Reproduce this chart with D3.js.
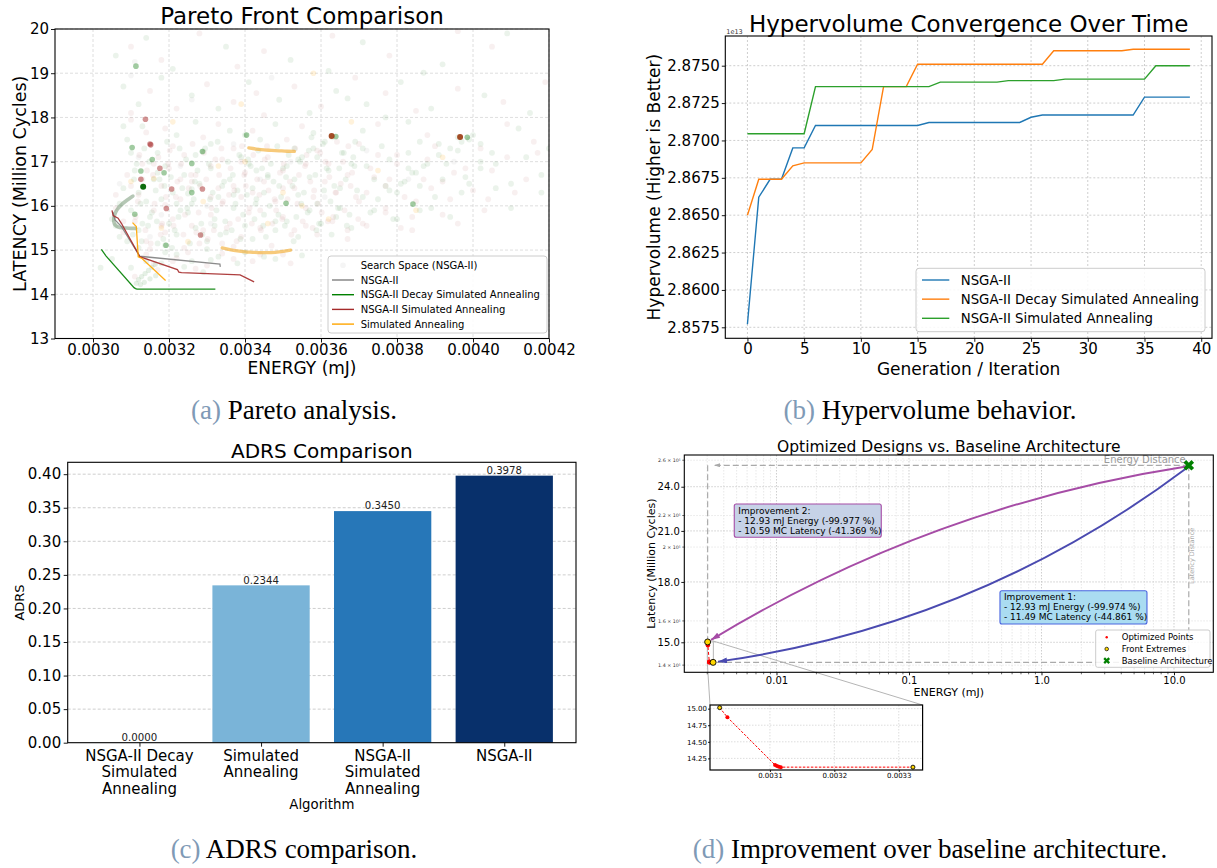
<!DOCTYPE html>
<html><head><meta charset="utf-8">
<script src="https://cdn.jsdelivr.net/npm/d3@7"></script>
<style>html,body{margin:0;padding:0;background:#fff;}svg{display:block;}</style>
</head><body>
<svg id="fig" width="1217" height="868" xmlns="http://www.w3.org/2000/svg"></svg>
<script>
// ================= (a) Pareto Front Comparison =================
const aXTicks=[0.0030,0.0032,0.0034,0.0036,0.0038,0.0040,0.0042];
const aYTicks=[13,14,15,16,17,18,19,20];
const frontNSGA=[[0.003052,15.86],[0.003058,15.68],[0.003075,15.53],[0.003123,14.86],[0.003334,14.68],[0.003335,14.62]];
const frontDecaySA=[[0.003022,15.015],[0.003034,14.87],[0.003108,14.15],[0.003112,14.13],[0.003116,14.118],[0.003322,14.118]];
const frontNSGASA=[[0.00305,15.9],[0.003053,15.78],[0.003066,15.72],[0.003075,15.6],[0.003119,14.92],[0.003123,14.85],[0.003222,14.56],[0.003226,14.5],[0.003233,14.49],[0.003387,14.44],[0.003424,14.28]];
const frontSA=[[0.003104,15.62],[0.003114,15.53],[0.003119,14.85],[0.003129,14.81],[0.003191,14.31]];
const cloudGreen=[[.00306,19.4],[.00314,19.8],[.00335,19.6],[.00352,19.3],[.00371,19.7],[.00392,19.2],[.00321,19.1],[.00409,19.9],[.00362,19.05],
[.00308,18.7],[.00312,18.3],[.00318,18.9],[.00326,18.5],[.00333,18.2],[.00341,18.8],[.00349,18.4],[.00357,18.1],[.00364,18.6],[.00372,18.3],[.00381,18.8],[.00389,18.2],[.00403,18.5],[.00415,18.1],[.00367,18.43],[.00387,19.01],[.00377,18.0],
[.00309,17.5],[.00313,17.8],[.00317,17.2],[.00322,17.6],[.00327,17.9],[.00331,17.4],[.00336,17.7],[.00339,17.1],[.00344,17.5],[.00348,17.85],[.00353,17.3],[.00358,17.65],[.00361,17.45],[.00363,17.55],[.00366,17.2],[.00371,17.7],[.00376,17.35],[.00383,17.9],[.00391,17.4],[.00396,17.55],[.00399,17.5],[.00405,17.2],[.00412,17.75],[.0042,17.3],[.00329,17.23],[.0034,17.6],[.00355,17.1],
[.00308,16.4],[.00311,16.8],[.00314,16.1],[.00316,16.6],[.00319,16.9],[.00321,16.3],[.00324,16.7],[.00326,16.05],[.00328,16.5],[.00331,16.85],[.00333,16.2],[.00336,16.6],[.00338,16.35],[.00341,16.95],[.00343,16.15],[.00346,16.7],[.00349,16.45],[.00351,16.9],[.00354,16.25],[.00357,16.65],[.00359,16.05],[.00362,16.8],[.00365,16.4],[.00368,16.95],[.00371,16.2],[.00374,16.6],[.00378,16.35],[.00381,16.5],[.00384,16.75],[.00387,16.9],[.00392,16.6],[.00397,16.3],[.00402,16.85],[.0041,16.5],[.00418,16.7],[.00326,16.38],[.00325,16.28],[.00318,16.15],[.00334,16.45],[.00345,16.3],
[.00382,16.55],[.00385,16.75],[.00388,16.95],[.00391,17.15],[.00394,17.3],[.00397,17.45],[.004,17.6],[.00342,16.4],[.00346,16.65],[.0035,16.85],[.00354,17.05],[.00358,17.3],
[.00305,15.7],[.00307,15.3],[.0031,15.9],[.00312,15.45],[.00315,15.75],[.00317,15.15],[.0032,15.6],[.00322,15.35],[.00325,15.85],[.00327,15.5],[.0033,15.2],[.00332,15.7],[.00335,15.4],[.00337,15.95],[.0034,15.55],[.00342,15.25],[.00345,15.8],[.00348,15.45],[.00351,15.65],[.00354,15.3],[.00357,15.9],[.0036,15.6],[.00364,15.75],[.00368,15.5],[.00373,15.85],[.00379,15.7],[.00386,15.9],[.00319,15.11],[.00323,15.9],[.00313,15.6],
[.00305,14.8],[.0031,14.6],[.00318,14.7],[.00322,14.9],[.00326,14.75],[.00333,14.85],[.0034,14.95],[.00348,14.8],[.00302,14.6],[.00329,14.5]];
const cloudGreenCore=[[.003105,15.35],[.003125,16.05],[.003145,15.55],[.003165,16.35],[.003185,15.25],[.003205,16.65],[.003225,15.75],[.003245,17.05],[.003265,16.15],[.003285,15.6],[.003305,16.95],[.003325,15.9],[.003345,16.55],[.003365,15.45],[.003385,17.15],[.003405,16.25],[.003425,15.7],[.003445,16.85],[.003465,16.0],[.003485,17.35],[.003505,15.55],[.003525,16.45],[.003545,17.0],[.003565,15.85],[.003585,16.7],[.003605,17.4],[.003625,16.1],[.003645,15.95],[.003665,16.6],[.003685,17.1],[.003115,16.95],[.003135,17.3],[.003155,15.85],[.003175,16.6],[.003195,17.45],[.003215,15.45],[.003235,16.4],[.003255,15.15],[.003275,16.8],[.003295,17.3],[.003315,16.3],[.003335,15.35],[.003355,17.0],[.003375,16.05],[.003395,15.8],[.003415,16.9],[.003435,17.25],[.003455,15.3],[.003475,16.55],[.003495,16.2],[.003515,17.15],[.003535,15.75],[.003555,16.3],[.003575,17.55],[.003595,15.6],[.003615,16.85],[.003635,16.45],[.003655,17.2],[.003675,15.8],[.003695,16.35],[.00372,16.9],[.00375,16.15],[.00378,17.05],[.0038,16.3],[.00383,17.2],[.00386,16.45],[.00389,15.95],[.00393,16.95],[.00396,17.25],[.00399,16.5],[.00402,17.0],[.00406,16.4],
[.00314,14.75],[.00319,14.95],[.00324,14.62],[.00331,14.78],[.00338,14.7],[.00345,14.85],[.00312,15.05],[.0033,15.02],[.00355,14.88],
[.003108,16.6],[.003128,15.2],[.003148,17.0],[.003168,15.65],[.003188,16.45],[.003208,15.05],[.003228,17.3],[.003248,15.95],[.003268,16.55],[.003288,15.35],[.003308,16.15],[.003328,17.45],[.003348,15.65],[.003368,16.7],[.003388,15.25],[.003408,17.05],[.003428,16.05],[.003448,15.55],[.003468,16.95],[.003488,15.8],[.003508,16.65],[.003528,15.2],[.003548,16.05],[.003568,17.25],[.003588,15.45],[.003608,16.35],[.003628,15.35],[.003648,16.85],[.003668,15.55],[.003688,16.9],[.00371,17.3],[.00374,15.9],[.00377,16.45],[.0038,15.7],[.00383,16.85],[.00386,17.45],[.0039,16.2],[.00394,15.75],[.00398,16.65],[.00402,17.4],[.00406,16.95],[.0041,15.95],[.00414,17.1],[.00418,16.3],
[.00312,16.3],[.00317,16.75],[.00322,16.05],[.00327,17.15],[.00332,15.55],[.00337,16.25],[.00343,16.8],[.00348,15.65],[.00353,16.6],[.00359,17.1],[.00365,15.95],[.00369,17.45],
[.00307,16.05],[.00309,15.2],[.00306,15.55],[.0031,17.2],[.00308,17.8]];
const cloudRed=[[.0031,19.6],[.00328,19.9],[.00345,19.5],[.00363,19.85],[.00378,19.4],[.00405,19.6],[.00318,19.3],[.00338,19.15],[.00396,19.95],
[.0031,18.1],[.00315,18.6],[.00322,18.2],[.0033,18.75],[.00337,18.35],[.00345,18.05],[.00353,18.7],[.0036,18.25],[.00369,18.9],[.00377,18.55],[.00385,18.15],[.00396,18.65],[.00408,18.35],[.00419,18.8],[.00343,18.55],
[.0031,17.95],[.00314,17.66],[.00319,17.75],[.00324,17.15],[.00329,17.55],[.00333,17.85],[.00337,17.3],[.00342,17.7],[.00346,17.1],[.00351,17.5],[.00355,17.8],[.00359,17.25],[.0037,17.4],[.00375,17.85],[.0038,17.15],[.00388,17.6],[.00402,17.3],[.00409,17.85],[.00416,17.45],[.00321,17.35],[.00334,17.05],
[.00309,16.7],[.00312,16.25],[.00313,16.6],[.00316,16.95],[.00318,16.45],[.0032,16.85],[.00323,16.15],[.00326,16.55],[.00331,16.9],[.00334,16.05],[.00337,16.45],[.0034,16.75],[.00342,16.3],[.00345,16.55],[.00348,16.1],[.0035,16.8],[.00353,16.4],[.00356,16.95],[.00358,16.2],[.00361,16.55],[.00364,16.3],[.00367,16.7],[.0037,16.1],[.00373,16.85],[.00377,16.45],[.00382,16.2],[.00389,16.4],[.00395,16.75],[.00404,16.15],[.00414,16.6],[.00319,16.02],[.00331,16.2],[.00327,16.7],[.00339,16.2],
[.00306,15.95],[.00308,15.4],[.00311,15.65],[.00314,15.2],[.00316,15.9],[.00319,15.4],[.00321,15.7],[.00324,15.05],[.00326,15.55],[.00331,15.8],[.00334,15.15],[.00336,15.6],[.00339,15.3],[.00341,15.85],[.00344,15.5],[.00347,15.1],[.0035,15.75],[.00353,15.45],[.00356,15.95],[.00359,15.35],[.00363,15.65],[.00367,15.25],[.00372,15.55],[.00377,15.95],[.00384,15.45],[.00392,15.8],[.00329,15.45],
[.00314,14.9],[.00317,14.55],[.00321,14.75],[.00325,14.95],[.0033,14.65],[.00337,14.8],[.00344,14.9],[.00352,14.7],[.00311,14.4]];
const cloudRedCore=[[.003112,15.75],[.003132,16.45],[.003152,15.15],[.003172,17.1],[.003192,16.2],[.003212,15.55],[.003232,16.95],[.003252,16.4],[.003272,15.4],[.003292,17.2],[.003312,15.95],[.003332,16.7],[.003352,15.5],[.003372,16.35],[.003392,17.35],[.003412,15.95],[.003432,16.6],[.003452,17.05],[.003472,15.6],[.003492,16.75],[.003512,16.15],[.003532,17.3],[.003552,15.65],[.003572,16.55],[.003592,16.05],[.003612,17.0],[.003632,15.75],[.003652,16.5],[.003672,17.35],[.003692,16.2],[.003122,17.15],[.003142,16.8],[.003162,16.05],[.003182,15.6],[.003202,17.25],[.003222,16.55],[.003242,15.8],[.003262,17.4],[.003282,16.45],[.003302,15.25],[.003322,17.05],[.003342,16.1],[.003362,16.85],[.003382,15.7],[.003402,16.45],[.003422,17.15],[.003442,15.45],[.003462,16.35],[.003482,15.9],[.003502,16.95],[.003522,15.35],[.003542,16.7],[.003562,17.15],[.003582,16.35],[.003602,15.85],[.003622,16.65],[.003642,17.45],[.003662,15.9],[.003682,16.75],[.00371,15.6],[.00374,16.65],[.00377,15.85],[.0038,16.95],[.00384,15.75],[.00387,16.6],[.0039,17.35],[.00394,16.15],[.00398,16.85],[.00403,15.9],[.00409,17.1],
[.00316,14.68],[.00322,14.82],[.00327,14.58],[.00334,14.92],[.00342,14.75],[.0035,14.9],[.00315,15.02],[.00337,15.08],
[.003118,16.1],[.003138,15.45],[.003158,16.7],[.003178,15.35],[.003198,16.95],[.003218,16.2],[.003238,15.35],[.003258,16.7],[.003278,15.85],[.003298,16.6],[.003318,15.45],[.003338,17.3],[.003358,16.25],[.003378,15.2],[.003398,16.7],[.003418,15.6],[.003438,16.25],[.003458,17.35],[.003478,16.15],[.003498,15.7],[.003518,16.55],[.003538,16.05],[.003558,16.9],[.003578,15.5],[.003598,17.2],[.003618,15.65],[.003638,16.3],[.003658,17.0],[.003678,16.45],[.003698,15.7],[.00372,16.3],[.00375,17.15],[.00378,16.6],[.00381,15.5],[.00385,16.1],[.00388,17.05],[.00392,16.55],[.00396,15.6],[.004,16.35],[.00405,16.8],[.00411,16.3],[.00417,17.2],
[.00313,16.95],[.00318,15.55],[.00323,16.6],[.00328,15.15],[.00333,16.4],[.00339,17.0],[.00344,15.9],[.0035,16.4],[.00356,15.55],[.00362,16.95],[.00367,15.45],
[.00306,16.25],[.00308,15.65],[.0031,16.45]];
const cloudOrange=[[.00316,16.62],[.00325,15.19],[.00333,16.9],[.0035,16.3],[.00362,15.7],[.00375,16.8],[.00339,18.3],[.00321,17.9],[.00358,19.0],[.00392,17.1],[.0031,16.55],[.00346,15.6],[.00329,16.1],[.00368,17.9],[.00355,16.0],[.00318,15.5],[.00385,15.9],[.0034,17.0]];
const cloudGray=[[.00307,16.5],[.00312,17.1],[.00318,15.8],[.00323,16.9],[.0033,16.0],[.00337,17.4],[.00344,16.6],[.00352,17.0],[.00361,16.2],[.00372,17.25],[.00383,16.6],[.00395,17.0],[.00326,18.4],[.00347,18.9],[.00315,15.3],[.00331,15.6],[.00311,19.26],[.0031,18.95]];
const orangeArcTop=[[.00341,17.31],[.00343,17.285],[.00345,17.265],[.00347,17.255],[.00349,17.245],[.00351,17.235],[.00353,17.23]];
const orangeArcBottom=[[.00334,15.05],[.00336,15.01],[.00338,14.98],[.0034,14.96],[.00342,14.95],[.00344,14.94],[.00346,14.94],[.00348,14.95],[.0035,14.97],[.00352,15.0]];
const hookPts=[[.003105,16.22],[.003095,16.16],[.003085,16.1],[.003075,16.03],[.003066,15.95],[.00306,15.87],[.003056,15.78],[.003054,15.7],[.003055,15.62],[.003058,15.56],[.003065,15.52],[.003075,15.5],[.003088,15.5],[.0031,15.49],[.003112,15.49]];
const tailPts=[[.003114,14.25],[.00312,14.33],[.003128,14.4],[.003137,14.47],[.003146,14.54],[.003155,14.61],[.003164,14.68],[.003125,14.22],[.003135,14.27],[.00315,14.35],[.003165,14.42]];
const highlightRed=[[.003138,17.96],[.003152,17.38],[.003176,16.85],[.003126,16.6],[.003207,16.38],[.003288,16.38],[.003193,15.94],[.003283,15.34],[.00315,17.4]];
const highlightGreen=[[.003113,19.16],[.003103,17.32],[.003156,17.05],[.003187,16.75],[.003126,16.79],[.00326,16.3],[.003192,15.11],[.003508,16.06],[.00311,15.81],[.003288,17.23],[.003404,17.6],[.003639,17.57],[.003985,17.55],[.003842,16.04],[.00326,16.96]];
const highlightDark=[[.003132,16.43]];
const highlightBrown=[[.003628,17.58],[.003966,17.56]];
const aLegend=["Search Space (NSGA-II)","NSGA-II","NSGA-II Decay Simulated Annealing","NSGA-II Simulated Annealing","Simulated Annealing"];

// ================= (b) Hypervolume =================
const generations=[0,1,2,3,4,5,6,7,8,9,10,11,12,13,14,15,16,17,18,19,20,21,22,23,24,25,26,27,28,29,30,31,32,33,34,35,36,37,38,39];
const hvNSGA=[2.8577,2.8662,2.8674,2.8674,2.8695,2.8695,2.8710,2.8710,2.8710,2.8710,2.8710,2.8710,2.8710,2.8710,2.8710,2.8710,2.8712,2.8712,2.8712,2.8712,2.8712,2.8712,2.8712,2.8712,2.8712,2.87155,2.8717,2.8717,2.8717,2.8717,2.8717,2.8717,2.8717,2.8717,2.8717,2.8729,2.8729,2.8729,2.8729,2.8729];
const hvDecaySA=[2.8650,2.8674,2.8674,2.8674,2.8683,2.8685,2.8685,2.8685,2.8685,2.8685,2.8685,2.8694,2.8736,2.8736,2.8736,2.8751,2.8751,2.8751,2.8751,2.8751,2.8751,2.8751,2.8751,2.8751,2.8751,2.8751,2.8751,2.8760,2.8760,2.8760,2.8760,2.8760,2.8760,2.8760,2.8761,2.8761,2.8761,2.8761,2.8761,2.8761];
const hvNSGASA=[2.87045,2.87045,2.87045,2.87045,2.87045,2.87045,2.8736,2.8736,2.8736,2.8736,2.8736,2.8736,2.8736,2.8736,2.8736,2.8736,2.8736,2.8739,2.8739,2.8739,2.8739,2.8739,2.8739,2.8740,2.8740,2.8740,2.8740,2.8740,2.8741,2.8741,2.8741,2.8741,2.8741,2.8741,2.8741,2.8741,2.8750,2.8750,2.8750,2.8750];
const bXTicks=[0,5,10,15,20,25,30,35,40];
const bYTicks=[2.8575,2.8600,2.8625,2.8650,2.8675,2.8700,2.8725,2.8750];
const bLegend=["NSGA-II","NSGA-II Decay Simulated Annealing","NSGA-II Simulated Annealing"];

// ================= (c) ADRS =================
const adrsCats=[["NSGA-II Decay","Simulated","Annealing"],["Simulated","Annealing"],["NSGA-II","Simulated","Annealing"],["NSGA-II"]];
const adrsVals=[0.0000,0.2344,0.3450,0.3978];
const cYTicks=[0,0.05,0.10,0.15,0.20,0.25,0.30,0.35,0.40];

// ================= (d) Baseline =================
const baseline=[12.933,25.605];
const optFront=[[0.003022,15.015],[0.003034,14.87],[0.003108,14.15],[0.003111,14.135],[0.003114,14.125],[0.003117,14.118],[0.003322,14.118]];
const frontExtremes=[[0.003022,15.015],[0.003322,14.118]];
const dXTicks=[0.01,0.1,1,10], dXLabels=["0.01","0.1","1.0","10.0"];
const dYTicks=[15,18,21,24], dYLabels=["15.0","18.0","21.0","24.0"];
const dYMinor=[14,16,20,22,26], dYMinorLabels=["1.4 × 10¹","1.6 × 10¹","2 × 10¹","2.2 × 10¹","2.6 × 10¹"];
const imp1Lines=["Improvement 1:","- 12.93 mJ Energy (-99.974 %)","- 11.49 MC Latency (-44.861 %)"];
const imp2Lines=["Improvement 2:","- 12.93 mJ Energy (-99.977 %)","- 10.59 MC Latency (-41.369 %)"];
const imp1Anchor=[0.486,17.53], imp2Anchor=[0.0048,22.78];
const dLegend=["Optimized Points","Front Extremes","Baseline Architecture"];
const iXTicks=[0.0031,0.0032,0.0033], iYTicks=[14.25,14.50,14.75,15.00];

const captions=[["(a)"," Pareto analysis."],["(b)"," Hypervolume behavior."],["(c)"," ADRS comparison."],["(d)"," Improvement over baseline architecture."]];

// ================= drawing =================
const svg=d3.select("#fig");
const F="DejaVu Sans, Verdana, sans-serif";
const defs=svg.append("defs");
function mk(id,color,w,h){defs.append("marker").attr("id",id).attr("markerUnits","userSpaceOnUse").attr("markerWidth",w).attr("markerHeight",h).attr("refX",w).attr("refY",h/2).attr("orient","auto").append("path").attr("d",`M0,0L${w},${h/2}L0,${h}Z`).attr("fill",color);}
mk("ahP","#a64ca6",9,6);mk("ahB","#4a4ab0",9,6);mk("ahG","#aaaaaa",6,4);

function txt(g,x,y,s,size,o={}){const t=g.append("text").attr("x",x).attr("y",y).text(s).attr("font-family",F).attr("font-size",size).attr("fill",o.fill||"#000").attr("text-anchor",o.anchor||"start");if(o.rot!=null)t.attr("transform",`rotate(${o.rot},${x},${y})`);if(o.dy)t.attr("dy",o.dy);return t;}
function axisStyle(g,fs){g.attr("font-family",F).attr("font-size",fs);g.select(".domain").remove();g.selectAll(".tick line").attr("stroke","#000").attr("stroke-width",0.9);g.selectAll(".tick text").attr("fill","#000");}
function hGrid(g,s,vals,x0,x1,c,dash,w){g.append("g").selectAll("line").data(vals).join("line").attr("x1",x0).attr("x2",x1).attr("y1",d=>s(d)).attr("y2",d=>s(d)).attr("stroke",c).attr("stroke-width",w).attr("stroke-dasharray",dash);}
function vGrid(g,s,vals,y0,y1,c,dash,w){g.append("g").selectAll("line").data(vals).join("line").attr("y1",y0).attr("y2",y1).attr("x1",d=>s(d)).attr("x2",d=>s(d)).attr("stroke",c).attr("stroke-width",w).attr("stroke-dasharray",dash);}
function frame(g,x0,y0,x1,y1,w){g.append("rect").attr("x",x0).attr("y",y0).attr("width",x1-x0).attr("height",y1-y0).attr("fill","none").attr("stroke","#000").attr("stroke-width",w||1);}
function dots(g,data,x,y,r,c,o,stroke){const s=g.append("g").selectAll("circle").data(data).join("circle").attr("cx",d=>x(d[0])).attr("cy",d=>y(d[1])).attr("r",r).attr("fill",c).attr("fill-opacity",o);if(stroke)s.attr("stroke",stroke).attr("stroke-width",0.9);return s;}

// ---------- panel a ----------
{
const L=55,R=549,T=29,B=338.5;
const g=svg.append("g");
const x=d3.scaleLinear().domain([0.0029,0.0042]).range([L,R]);
const y=d3.scaleLinear().domain([13,20]).range([B,T]);
vGrid(g,x,aXTicks,T,B,"#d6d6d6","3,2",0.8);
hGrid(g,y,aYTicks,L,R,"#d6d6d6","3,2",0.8);
defs.append("clipPath").attr("id","clipA").append("rect").attr("x",L).attr("y",T).attr("width",R-L).attr("height",B-T);
const pg=g.append("g").attr("clip-path","url(#clipA)");
dots(pg,cloudGray,x,y,2.8,"#808080",0.08);
dots(pg,cloudGreen,x,y,2.9,"#3c8c3c",0.1);
dots(pg,cloudGreenCore,x,y,2.9,"#3c8c3c",0.1);
dots(pg,cloudRed,x,y,2.9,"#a54040",0.08);
dots(pg,cloudRedCore,x,y,2.9,"#a54040",0.08);
dots(pg,cloudOrange,x,y,2.8,"#ffa500",0.14);
dots(pg,tailPts,x,y,2.6,"#5fa05f",0.16);
const line=d3.line().x(d=>x(d[0])).y(d=>y(d[1])).curve(d3.curveMonotoneX);
const lineP=d3.line().x(d=>x(d[0])).y(d=>y(d[1])).curve(d3.curveBasis);
[orangeArcTop,orangeArcBottom].forEach(a=>pg.append("path").attr("d",line(a)).attr("fill","none").attr("stroke","#f2a623").attr("stroke-width",3.3).attr("stroke-linecap","round").attr("stroke-opacity",0.6));
pg.append("path").attr("d",lineP(hookPts)).attr("fill","none").attr("stroke","#6b8f6b").attr("stroke-width",3.6).attr("stroke-linecap","round").attr("stroke-opacity",0.5);
dots(pg,highlightRed,x,y,2.8,"#a52a2a",0.5);
dots(pg,highlightGreen,x,y,2.8,"#2e8b2e",0.45);
dots(pg,highlightDark,x,y,3,"#006400",0.95);
dots(pg,highlightBrown,x,y,3,"#9a3a10",0.9);
const fl=d3.line().x(d=>x(d[0])).y(d=>y(d[1]));
const fr=[[frontNSGA,"#808080"],[frontDecaySA,"#008000"],[frontNSGASA,"#a52a2a"],[frontSA,"#ffa500"]];
fr.forEach(([d,c])=>pg.append("path").attr("d",fl(d)).attr("fill","none").attr("stroke",c).attr("stroke-width",1.3).attr("stroke-opacity",0.9));
frame(g,L,T,R,B,1.1);
const ax=g.append("g").attr("transform",`translate(0,${B})`).call(d3.axisBottom(x).tickValues(aXTicks).tickFormat(d3.format(".4f")).tickSize(4).tickPadding(2));axisStyle(ax,15);
const ay=g.append("g").attr("transform",`translate(${L},0)`).call(d3.axisLeft(y).tickValues(aYTicks).tickFormat(d3.format("d")).tickSize(4).tickPadding(2));axisStyle(ay,15);
txt(g,(L+R)/2,24,"Pareto Front Comparison",23,{anchor:"middle"});
txt(g,(L+R)/2,374,"ENERGY (mJ)",17,{anchor:"middle"});
txt(g,20,(T+B)/2,"LATENCY (Million Cycles)",17.5,{anchor:"middle",rot:-90,dy:"0.36em"});
const lg=g.append("g");
lg.append("rect").attr("x",328).attr("y",256).attr("width",219).attr("height",77).attr("rx",3).attr("fill","#fff").attr("fill-opacity",0.85).attr("stroke","#cccccc");
const lc=["#808080","#808080","#008000","#a52a2a","#ffa500"];
aLegend.forEach((s,i)=>{const yy=265.3+i*14.7;
 if(i===0){lg.append("circle").attr("cx",343).attr("cy",yy).attr("r",2.8).attr("fill","#808080").attr("fill-opacity",0.08);}
 else lg.append("line").attr("x1",332).attr("x2",354).attr("y1",yy).attr("y2",yy).attr("stroke",lc[i]).attr("stroke-width",1.4);
 txt(lg,360.7,yy,s,10,{dy:"0.35em"});});
}

// ---------- panel b ----------
{
const L=725.3,R=1212,T=36,B=338.3;
const g=svg.append("g");
const x=d3.scaleLinear().domain([-1.95,40.95]).range([L,R]);
const y=d3.scaleLinear().domain([2.856764,2.876987]).range([B,T]);
vGrid(g,x,bXTicks,T,B,"#c8c8c8","2,2",0.9);
hGrid(g,y,bYTicks,L,R,"#c8c8c8","2,2",0.9);
const sers=[[hvNSGA,"#1f77b4"],[hvDecaySA,"#ff7f0e"],[hvNSGASA,"#2ca02c"]];
sers.forEach(([v,c])=>{const ln=d3.line().x((d,i)=>x(generations[i])).y(d=>y(d));g.append("path").attr("d",ln(v)).attr("fill","none").attr("stroke",c).attr("stroke-width",1.4);});
frame(g,L,T,R,B,1.1);
const ax=g.append("g").attr("transform",`translate(0,${B})`).call(d3.axisBottom(x).tickValues(bXTicks).tickFormat(d3.format("d")).tickSize(3.5).tickPadding(2));axisStyle(ax,15);
const ay=g.append("g").attr("transform",`translate(${L},0)`).call(d3.axisLeft(y).tickValues(bYTicks).tickFormat(d3.format(".4f")).tickSize(3.5).tickPadding(2));axisStyle(ay,15);
txt(g,L+1,34,"1e13",6.5,{fill:"#333"});
txt(g,(L+R)/2,31.5,"Hypervolume Convergence Over Time",23,{anchor:"middle"});
txt(g,(L+R)/2,374.5,"Generation / Iteration",17,{anchor:"middle"});
txt(g,654,(T+B)/2,"Hypervolume (Higher is Better)",17,{anchor:"middle",rot:-90,dy:"0.36em"});
const lg=g.append("g");
lg.append("rect").attr("x",916).attr("y",268.3).attr("width",289).attr("height",63.4).attr("rx",3).attr("fill","#fff").attr("fill-opacity",0.85).attr("stroke","#cccccc");
bLegend.forEach((s,i)=>{const yy=280+i*19.15;lg.append("line").attr("x1",922).attr("x2",949.3).attr("y1",yy).attr("y2",yy).attr("stroke",sers[i][1]).attr("stroke-width",1.4);txt(lg,960.7,yy,s,13.3,{dy:"0.35em"});});
}

// ---------- panel c ----------
{
const L=67.7,R=576,T=462.3,B=742.7;
const g=svg.append("g");
const x=d3.scaleLinear().domain([-0.59,3.59]).range([L,R]);
const y=d3.scaleLinear().domain([0,0.4177]).range([B,T]);
const col=d3.scaleOrdinal().domain([0,1,2,3]).range(["#f7fbff","#7ab4d8","#2777b8","#08306b"]);
hGrid(g,y,cYTicks.slice(1),L,R,"#c8c8c8","3,2",0.9);
g.append("g").selectAll("rect").data(adrsVals).join("rect").attr("x",(d,i)=>x(i-0.4)).attr("width",(d,i)=>x(i+0.4)-x(i-0.4)).attr("y",d=>y(d)).attr("height",d=>y(0)-y(d)).attr("fill",(d,i)=>col(i));
adrsVals.forEach((v,i)=>txt(g,x(i),y(v)-1.8,d3.format(".4f")(v),10.2,{anchor:"middle",fill:"#222"}));
frame(g,L,T,R,B,1.1);
const ay=g.append("g").attr("transform",`translate(${L},0)`).call(d3.axisLeft(y).tickValues(cYTicks).tickFormat(d3.format(".2f")).tickSize(4).tickPadding(2.5));axisStyle(ay,15);
const ax=g.append("g").attr("transform",`translate(0,${B})`).call(d3.axisBottom(x).tickValues([0,1,2,3]).tickFormat("").tickSize(4));axisStyle(ax,15);
adrsCats.forEach((lines,i)=>lines.forEach((s,j)=>txt(g,x(i),760.5+j*16.7,s,15,{anchor:"middle"})));
txt(g,(L+R)/2,458.3,"ADRS Comparison",20,{anchor:"middle"});
txt(g,(L+R)/2,809,"Algorithm",13.3,{anchor:"middle"});
txt(g,19,(T+B)/2,"ADRS",13,{anchor:"middle",rot:-90,dy:"0.36em"});
}

// ---------- panel d ----------
{
const L=684.3,R=1213.3,T=455,B=672.3;
const g=svg.append("g");
const x=d3.scaleLog().domain([0.0020144,19.80]).range([L,R]);
const y=d3.scaleLog().domain([13.70,26.414]).range([B,T]);
const minorX=[];for(let e=-3;e<=1;e++)for(let k=2;k<=9;k++){const v=k*Math.pow(10,e);if(v>=x.domain()[0]&&v<=x.domain()[1])minorX.push(v);}
vGrid(g,x,minorX,T,B,"#dedede","1.5,1.5",0.7);
vGrid(g,x,dXTicks,T,B,"#c2c2c2","1.5,1.5",0.8);
hGrid(g,y,dYMinor,L,R,"#dedede","1.5,1.5",0.7);
hGrid(g,y,dYTicks,L,R,"#c2c2c2","1.5,1.5",0.8);
const bx=x(baseline[0]),by=y(baseline[1]);
const eL=frontExtremes[0],eR=frontExtremes[1];
const gd=g.append("g").attr("stroke","#aaaaaa").attr("stroke-width",1.2).attr("fill","none");
gd.append("line").attr("x1",bx).attr("y1",by).attr("x2",x(eR[0])+1).attr("y2",by).attr("stroke-dasharray","6,3").attr("marker-end","url(#ahG)");
gd.append("line").attr("x1",x(eL[0])).attr("y1",by).attr("x2",x(eL[0])).attr("y2",y(eL[1])).attr("stroke-dasharray","6,3");
gd.append("line").attr("x1",bx).attr("y1",by).attr("x2",bx).attr("y2",y(eR[1])).attr("stroke-dasharray","6,3");
gd.append("line").attr("x1",x(eR[0])+4).attr("y1",y(eR[1])).attr("x2",bx).attr("y2",y(eR[1])).attr("stroke-dasharray","6,3");
txt(g,bx-3,by-2.5,"Energy Distance",10,{anchor:"end",fill:"#9a9a9a"});
txt(g,bx+3,(by+y(eR[1]))/2-8,"Latency Distance",6.5,{anchor:"middle",fill:"#aaaaaa",rot:-90,dy:"0.35em"});
const IL=710,IR=922.6,IT=705,IB=770;
const xi=d3.scaleLinear().domain([0.003007,0.003337]).range([IL,IR]);
const yi=d3.scaleLinear().domain([14.075,15.055]).range([IB,IT]);
const rx0=x(xi.domain()[0]),rx1=x(xi.domain()[1]),ry0=y(yi.domain()[1]),ry1=y(yi.domain()[0]);
g.append("rect").attr("x",rx0).attr("y",ry0).attr("width",rx1-rx0).attr("height",ry1-ry0).attr("fill","none").attr("stroke","#b5b5b5").attr("stroke-width",1);
g.append("line").attr("x1",rx0).attr("y1",ry1).attr("x2",IL).attr("y2",IT).attr("stroke","#b5b5b5").attr("stroke-width",1);
g.append("line").attr("x1",rx1).attr("y1",ry0).attr("x2",IR).attr("y2",IT).attr("stroke","#b5b5b5").attr("stroke-width",1);
function arc(S,E,rad,shrink){const mx=(S[0]+E[0])/2,my=(S[1]+E[1])/2,dx=E[0]-S[0],dy=E[1]-S[1];const C=[mx+rad*dy,my-rad*dx];const len=2*Math.hypot(E[0]-C[0],E[1]-C[1]);const t=1-shrink/len;const C1=[S[0]+t*(C[0]-S[0]),S[1]+t*(C[1]-S[1])];const u=1-t;const P=[u*u*S[0]+2*u*t*C[0]+t*t*E[0],u*u*S[1]+2*u*t*C[1]+t*t*E[1]];return `M${S[0]},${S[1]}Q${C1[0]},${C1[1]} ${P[0]},${P[1]}`;}
g.append("path").attr("d",arc([bx-1,by+1],[x(eL[0]),y(eL[1])],-0.1,4)).attr("fill","none").attr("stroke","#a64ca6").attr("stroke-width",1.9).attr("marker-end","url(#ahP)");
g.append("path").attr("d",arc([bx-1,by+2],[x(eR[0]),y(eR[1])],0.13,5)).attr("fill","none").attr("stroke","#4a4ab0").attr("stroke-width",1.9).attr("marker-end","url(#ahB)");
const ln=d3.line().x(d=>x(d[0])).y(d=>y(d[1]));
g.append("path").attr("d",ln(optFront)).attr("fill","none").attr("stroke","#ff0000").attr("stroke-width",1).attr("stroke-dasharray","3,2");
dots(g,optFront.slice(1,-1),x,y,2.2,"#ff0000",1);
dots(g,frontExtremes,x,y,3,"#ffd700",1,"#000");
g.append("path").attr("d",d3.symbol(d3.symbolCross,70)()).attr("transform",`translate(${bx},${by}) rotate(45)`).attr("fill","#008000");
function box(anchor,lines,fill,stroke){const px=x(anchor[0]),py=y(anchor[1]);g.append("rect").attr("x",px).attr("y",py).attr("width",147).attr("height",33.3).attr("rx",2).attr("fill",fill).attr("stroke",stroke).attr("stroke-width",1.1);lines.forEach((s,i)=>txt(g,px+4,py+9.6+i*10,s,9));}
box(imp2Anchor,imp2Lines,"#c6d2e7","#a64ca6");
box(imp1Anchor,imp1Lines,"#aadcf1","#4a66e0");
const lg=g.append("g");
lg.append("rect").attr("x",1095.7).attr("y",630).attr("width",114.3).attr("height",37.3).attr("rx",2).attr("fill","#fff").attr("fill-opacity",0.85).attr("stroke","#cccccc");
const ly=[637.3,649,660.7];
lg.append("circle").attr("cx",1106.7).attr("cy",ly[0]).attr("r",1.2).attr("fill","#ff0000");
lg.append("circle").attr("cx",1106.7).attr("cy",ly[1]).attr("r",1.8).attr("fill","#ffd700").attr("stroke","#000").attr("stroke-width",0.7);
lg.append("path").attr("d",d3.symbol(d3.symbolCross,28)()).attr("transform",`translate(1106.7,${ly[2]}) rotate(45)`).attr("fill","#008000");
dLegend.forEach((s,i)=>txt(lg,1121.7,ly[i],s,8.5,{dy:"0.35em"}));
frame(g,L,T,R,B,1.1);
const ax=g.append("g").attr("transform",`translate(0,${B})`).call(d3.axisBottom(x).tickValues(dXTicks).tickFormat((d,i)=>dXLabels[i]).tickSize(3).tickPadding(1.7));axisStyle(ax,10);
const ay=g.append("g").attr("transform",`translate(${L},0)`).call(d3.axisLeft(y).tickValues(dYTicks).tickFormat((d,i)=>dYLabels[i]).tickSize(3).tickPadding(1.5));axisStyle(ay,10);
g.append("g").selectAll("line").data(minorX).join("line").attr("x1",d=>x(d)).attr("x2",d=>x(d)).attr("y1",B).attr("y2",B+2).attr("stroke","#000").attr("stroke-width",0.6);
g.append("g").selectAll("line").data(dYMinor).join("line").attr("y1",d=>y(d)).attr("y2",d=>y(d)).attr("x1",L).attr("x2",L-2).attr("stroke","#000").attr("stroke-width",0.6);
dYMinor.forEach((v,i)=>txt(g,L-3.5,y(v),dYMinorLabels[i],4.8,{anchor:"end",fill:"#333",dy:"0.35em"}));
txt(g,(L+R)/2,452,"Optimized Designs vs. Baseline Architecture",15.5,{anchor:"middle"});
txt(g,(L+R)/2,695.5,"ENERGY (mJ)",11,{anchor:"middle"});
txt(g,651,(T+B)/2,"Latency (Million Cycles)",11,{anchor:"middle",rot:-90,dy:"0.36em"});
const ig=svg.append("g");
ig.append("rect").attr("x",IL).attr("y",IT).attr("width",IR-IL).attr("height",IB-IT).attr("fill","#fff");
vGrid(ig,xi,iXTicks,IT,IB,"#d0d0d0","1.5,1.5",0.7);
hGrid(ig,yi,iYTicks,IL,IR,"#d0d0d0","1.5,1.5",0.7);
const lni=d3.line().x(d=>xi(d[0])).y(d=>yi(d[1]));
ig.append("path").attr("d",lni(optFront)).attr("fill","none").attr("stroke","#ff0000").attr("stroke-width",1).attr("stroke-dasharray","2.5,1.5");
dots(ig,optFront.slice(1,-1),xi,yi,2,"#ff0000",1);
dots(ig,frontExtremes,xi,yi,2,"#ffd700",1,"#000");
frame(ig,IL,IT,IR,IB,1.2);
const iax=ig.append("g").attr("transform",`translate(0,${IB})`).call(d3.axisBottom(xi).tickValues(iXTicks).tickFormat(d3.format(".4f")).tickSize(2).tickPadding(1.5));axisStyle(iax,7);
const iay=ig.append("g").attr("transform",`translate(${IL},0)`).call(d3.axisLeft(yi).tickValues(iYTicks).tickFormat(d3.format(".2f")).tickSize(2).tickPadding(1));axisStyle(iay,7);
}

// ---------- captions ----------
const capPos=[[294,419],[930,419],[294,857.5],[930,858]];
captions.forEach(([a,b],i)=>{const t=svg.append("text").attr("x",capPos[i][0]).attr("y",capPos[i][1]).attr("text-anchor","middle").attr("font-family","Liberation Serif, Times New Roman, serif").attr("font-size",27);
t.append("tspan").attr("fill","#7f9ab6").text(a);t.append("tspan").attr("fill","#000").text(b);});
</script></body></html>
